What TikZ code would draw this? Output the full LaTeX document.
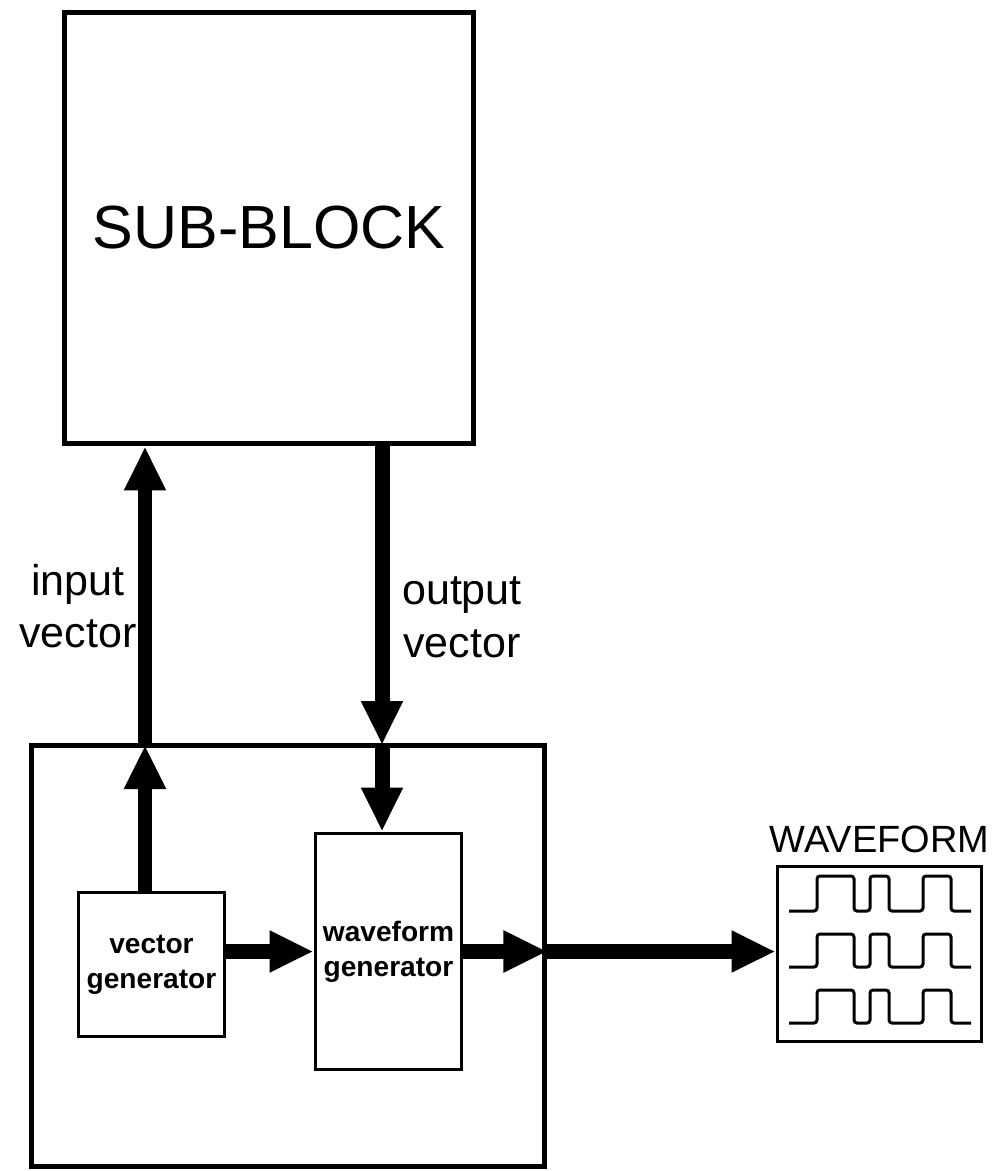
\documentclass[tikz,border=0pt]{standalone}
\usepackage{fontspec}
\setmainfont{Liberation Sans}
\usetikzlibrary{arrows.meta,positioning}

\begin{document}
\begin{tikzpicture}[
    x=0.02cm, y=-0.02cm,
    block/.style={rectangle, draw, line width=0.1cm, inner sep=0pt},
    unit/.style={rectangle, draw, line width=0.06cm, inner sep=0pt, align=center, font=\fontsize{16}{20}\selectfont\bfseries},
    screen/.style={rectangle, draw, line width=0.06cm, inner sep=0pt},
    buslabel/.style={align=center, inner sep=0pt, font=\fontsize{24.5}{30}\selectfont},
    bus/.style={line width=0.3cm, -{Triangle[length=0.88cm, width=0.78cm]}},
    trace/.style={line width=0.06cm, rounded corners=0.06cm}
]

\useasboundingbox (0,0) rectangle (992,1171);
\fill[white] (0,0) rectangle (992,1171);

\node[block, minimum width=8.2cm, minimum height=8.64cm, font=\fontsize{34.7}{40}\selectfont] (sub) at (269,228) {SUB-BLOCK};
\node[block, minimum width=10.28cm, minimum height=8.44cm] (tester) at (288,956) {};
\node[unit, minimum width=2.94cm, minimum height=2.9cm] (vgen) at (151.5,964.5) {vector\\generator};
\node[unit, minimum width=2.94cm, minimum height=4.74cm] (wgen) at (388.5,951.5) {waveform\\generator};
\node[screen, minimum width=4.1cm, minimum height=3.52cm] (wave) at (879.5,954) {};
\node[above=0.22cm of wave, inner sep=0pt, font=\fontsize{21.6}{26}\selectfont] (wavename) {WAVEFORM};

\node[buslabel] (inlabel) at (78,606) {input\\vector};
\node[buslabel] (outlabel) at (462,617) {output\\vector};

% where the buses cross the tester outline
\coordinate (injoin) at (145,745);
\coordinate (outjoin) at (382,745);

% Arrows
\draw[bus] (vgen.north -| injoin) -- (injoin);
\draw[bus] (injoin) -- (injoin |- sub.south);
\draw[bus] (outjoin |- sub.south) -- (outjoin);
\draw[bus] (outjoin) -- (outjoin |- wgen.north);
\draw[bus] (vgen.east |- wgen.west) -- (wgen.west);
\draw[bus] (wgen.east) -- (wgen.east -| tester.east);
\draw[bus] (wgen.east -| tester.east) -- (wave.west |- wgen.east);

% square-wave traces on the screen
\foreach \lo/\hi in {911/876, 967/934, 1023/990}
  \draw[trace] (789,\lo) -- (817,\lo) -- (817,\hi) -- (854,\hi) -- (854,\lo) -- (870,\lo) -- (870,\hi) -- (889,\hi)
    -- (889,\lo) -- (923,\lo) -- (923,\hi) -- (951,\hi) -- (951,\lo) -- (971,\lo);

\end{tikzpicture}
\end{document}
